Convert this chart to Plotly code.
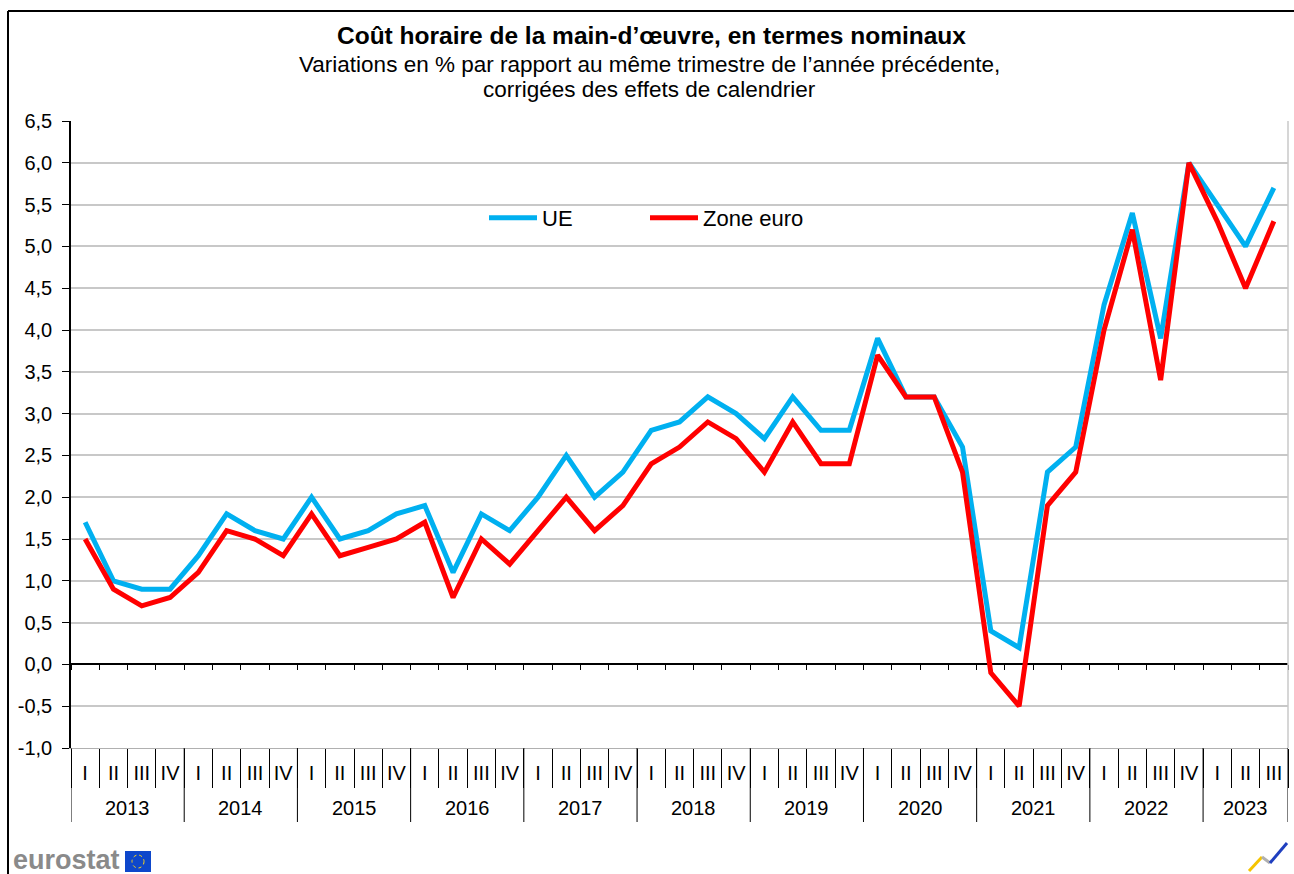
import numpy as np
import plotly.graph_objects as go

# ---------------- data ----------------
years = ["2013", "2014", "2015", "2016", "2017", "2018", "2019", "2020", "2021", "2022", "2023"]
quarters_per_year = [4, 4, 4, 4, 4, 4, 4, 4, 4, 4, 3]
quarter_names = ["I", "II", "III", "IV"]

ue = [1.7, 1.0, 0.9, 0.9,
      1.3, 1.8, 1.6, 1.5,
      2.0, 1.5, 1.6, 1.8,
      1.9, 1.1, 1.8, 1.6,
      2.0, 2.5, 2.0, 2.3,
      2.8, 2.9, 3.2, 3.0,
      2.7, 3.2, 2.8, 2.8,
      3.9, 3.2, 3.2, 2.6,
      0.4, 0.2, 2.3, 2.6,
      4.3, 5.4, 3.9, 6.0,
      5.5, 5.0, 5.7]

zone_euro = [1.5, 0.9, 0.7, 0.8,
             1.1, 1.6, 1.5, 1.3,
             1.8, 1.3, 1.4, 1.5,
             1.7, 0.8, 1.5, 1.2,
             1.6, 2.0, 1.6, 1.9,
             2.4, 2.6, 2.9, 2.7,
             2.3, 2.9, 2.4, 2.4,
             3.7, 3.2, 3.2, 2.3,
             -0.1, -0.5, 1.9, 2.3,
             4.0, 5.2, 3.4, 6.0,
             5.3, 4.5, 5.3]

y_ticks = [-1.0, -0.5, 0.0, 0.5, 1.0, 1.5, 2.0, 2.5, 3.0, 3.5, 4.0, 4.5, 5.0, 5.5, 6.0, 6.5]

title = "Coût horaire de la main-d’œuvre, en termes nominaux"
subtitle1 = "Variations en % par rapport au même trimestre de l’année précédente,"
subtitle2 = "corrigées des effets de calendrier"
series_names = ["UE", "Zone euro"]

# ---------------- derived ----------------
quarter_labels = []
for n in quarters_per_year:
    quarter_labels += quarter_names[:n]
n_pts = len(quarter_labels)
idx = list(range(n_pts))
boundaries = [i - 0.5 for i in range(n_pts + 1)]
starts = np.concatenate([[0], np.cumsum(quarters_per_year)])
year_bounds = [s - 0.5 for s in starts]
year_centers = [(starts[k] + starts[k + 1] - 1) / 2 for k in range(len(years))]
y_ticktext = [f"{v:.1f}".replace(".", ",") for v in y_ticks]

W, H = 1294, 874
ML, MR, MT, MB = 71, 6, 121, 126
PW, PH = W - ML - MR, H - MT - MB


def px(xpix):
    return (xpix - ML) / PW


def py(ypix):
    return (MT + PH - ypix) / PH


FONT = "Liberation Sans, Arial, sans-serif"
BLUE = "#00B0F0"
RED = "#FF0000"

fig = go.Figure()
# helper trace for the secondary axis at zero (invisible)
fig.add_trace(go.Scatter(x=idx, y=ue, xaxis="x2", yaxis="y", mode="lines",
                         line=dict(color="rgba(0,0,0,0)", width=0),
                         showlegend=False, hoverinfo="skip"))
fig.add_trace(go.Scatter(x=idx, y=ue, name=series_names[0], mode="lines",
                         line=dict(color=BLUE, width=5)))
fig.add_trace(go.Scatter(x=idx, y=zone_euro, name=series_names[1], mode="lines",
                         line=dict(color=RED, width=5)))

shapes = []
# legend white background patch (hides the gridline behind it)
shapes.append(dict(type="rect", xref="paper", yref="paper",
                   x0=px(410), x1=px(878), y0=py(232), y1=py(198),
                   fillcolor="white", line=dict(width=0), layer="between"))
# plot area right border
shapes.append(dict(type="line", xref="x domain", yref="y domain", x0=1, x1=1, y0=0, y1=1,
                   line=dict(color="#c8c8c8", width=1.5)))
# year separators below axis
for b in year_bounds:
    shapes.append(dict(type="line", xref="x", yref="paper", x0=b, x1=b,
                       y0=0, y1=py(822), line=dict(color="black", width=1)))
# outer frame
shapes.append(dict(type="line", xref="paper", yref="paper", x0=px(8), x1=px(W),
                   y0=py(11), y1=py(11), line=dict(color="black", width=2)))
shapes.append(dict(type="line", xref="paper", yref="paper", x0=px(8), x1=px(8),
                   y0=py(11), y1=py(H), line=dict(color="black", width=2)))
# eurostat flag
shapes.append(dict(type="rect", xref="paper", yref="paper", x0=px(125), x1=px(151),
                   y0=py(872), y1=py(851), fillcolor="#0E47CB", line=dict(width=0)))
shapes.append(dict(type="circle", xref="paper", yref="paper", x0=px(132), x1=px(144),
                   y0=py(868), y1=py(855), line=dict(color="#FFD617", width=1, dash="dot")))
# small logo bottom right
shapes.append(dict(type="line", xref="paper", yref="paper", x0=px(1249), x1=px(1262),
                   y0=py(871), y1=py(857), line=dict(color="#F5C400", width=3)))
shapes.append(dict(type="line", xref="paper", yref="paper", x0=px(1262), x1=px(1270),
                   y0=py(857), y1=py(863), line=dict(color="#B0B0B0", width=3)))
shapes.append(dict(type="line", xref="paper", yref="paper", x0=px(1270), x1=px(1287),
                   y0=py(863), y1=py(843), line=dict(color="#1F3FBF", width=3)))

annotations = [
    dict(text=f"<b>{title}</b>", xref="paper", yref="paper", x=px(651), y=py(36),
         yanchor="middle", showarrow=False, font=dict(family=FONT, size=24.5, color="black")),
    dict(text=subtitle1, xref="paper", yref="paper", x=px(649), y=py(64),
         yanchor="middle", showarrow=False, font=dict(family=FONT, size=22.5, color="black")),
    dict(text=subtitle2, xref="paper", yref="paper", x=px(649), y=py(90),
         yanchor="middle", showarrow=False, font=dict(family=FONT, size=22.5, color="black")),
    dict(text="<b>eurostat</b>", xref="paper", yref="paper", x=px(11), y=py(860),
         xanchor="left", yanchor="middle", showarrow=False,
         font=dict(family=FONT, size=27, color="#8a8a8a")),
]
for yr, c in zip(years, year_centers):
    annotations.append(dict(text=yr, xref="x", yref="paper", x=c, y=py(808),
                            yanchor="middle", showarrow=False,
                            font=dict(family=FONT, size=20, color="black")))

fig.update_layout(
    width=W, height=H,
    margin=dict(l=ML, r=MR, t=MT, b=MB, pad=0),
    paper_bgcolor="white", plot_bgcolor="white",
    font=dict(family=FONT, size=20, color="black"),
    showlegend=True,
    legend=dict(orientation="h", x=px(484), xanchor="left", y=py(218), yanchor="middle",
                bgcolor="rgba(0,0,0,0)", font=dict(family=FONT, size=22, color="black"),
                entrywidth=98, entrywidthmode="pixels", itemwidth=48,
                traceorder="normal"),
    xaxis=dict(range=[-0.5, n_pts - 0.5], tickmode="array", tickvals=idx,
               ticktext=quarter_labels, ticks="outside", ticklen=7,
               tickcolor="rgba(0,0,0,0)", showgrid=False, zeroline=False,
               showline=True, linecolor="#b0b0b0", linewidth=1,
               tickfont=dict(family=FONT, size=20, color="black"),
               minor=dict(tickmode="array", tickvals=boundaries, ticks="outside",
                          ticklen=39, tickcolor="black", tickwidth=1, showgrid=False)),
    xaxis2=dict(range=[-0.5, n_pts - 0.5], overlaying="x", anchor="free",
                position=(0 - y_ticks[0]) / (y_ticks[-1] - y_ticks[0]),
                tickmode="array", tickvals=boundaries, ticks="outside", ticklen=5,
                tickcolor="black", showticklabels=False, showgrid=False,
                zeroline=False, showline=False),
    yaxis=dict(range=[y_ticks[0], y_ticks[-1]], tickmode="array", tickvals=y_ticks,
               ticktext=y_ticktext, ticks="outside", ticklen=7, tickcolor="black",
               ticklabelstandoff=6,
               showline=True, linecolor="black", linewidth=1.5,
               showgrid=True, gridcolor="#c8c8c8", gridwidth=1.5,
               zeroline=True, zerolinecolor="black", zerolinewidth=1.5,
               tickfont=dict(family=FONT, size=20, color="black"), domain=[0, 1]),
    shapes=shapes,
    annotations=annotations,
)

fig.write_html("out.html", config={"displayModeBar": False},
               post_script="document.body.style.margin='0px';document.body.style.overflow='hidden';")
